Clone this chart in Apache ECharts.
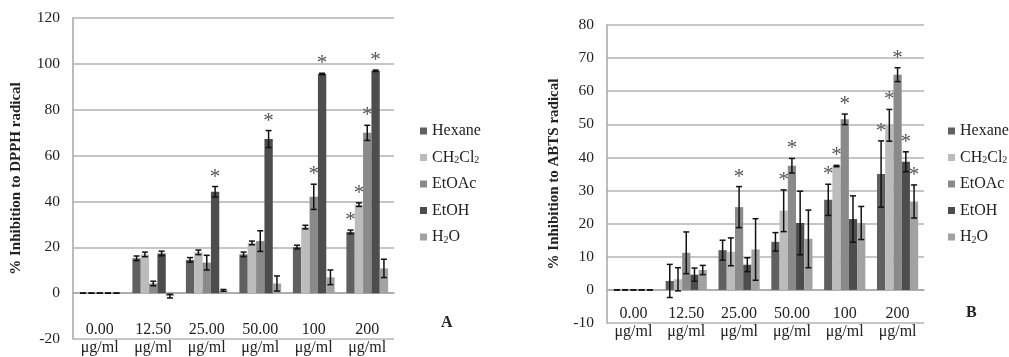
<!DOCTYPE html>
<html>
<head>
<meta charset="utf-8">
<script src="https://cdn.jsdelivr.net/npm/echarts@6/dist/echarts.min.js"></script>
<style>
  html, body { margin: 0; padding: 0; background: #fff; }
  #main { width: 1009px; height: 357px; }
</style>
</head>
<body>
<div id="main"></div>
<script>
// concentrations (x categories)
var categories = ['0.00\nμg/ml', '12.50\nμg/ml', '25.00\nμg/ml', '50.00\nμg/ml', '100\nμg/ml', '200\nμg/ml'];
var solvents = ['Hexane', 'CH2Cl2', 'EtOAc', 'EtOH', 'H2O'];

// A : % inhibition to DPPH radical
var dpph_hexane = [0, 15.2, 14.5, 16.9, 20.1, 26.7];
var dpph_ch2cl2 = [0, 16.9, 17.8, 21.9, 28.8, 38.6];
var dpph_etoac  = [0, 4.2, 13.3, 22.7, 42.0, 69.9];
var dpph_etoh   = [0, 17.3, 44.2, 67.2, 95.6, 97.0];
var dpph_h2o    = [0, -1.3, 1.2, 4.2, 6.9, 10.8];
var dpph_hexane_err = [0, 1.0, 1.0, 1.0, 0.8, 0.8];
var dpph_ch2cl2_err = [0, 1.0, 1.0, 0.8, 0.8, 0.8];
var dpph_etoac_err  = [0, 1.0, 3.2, 4.5, 5.5, 3.3];
var dpph_etoh_err   = [0, 1.0, 2.3, 3.7, 0.3, 0.3];
var dpph_h2o_err    = [0, 0.8, 0.4, 3.3, 3.2, 4.0];
// [category, solvent] pairs marked with *
var dpph_stars = [[2, 3], [3, 3], [4, 2], [4, 3], [5, 0], [5, 1], [5, 2], [5, 3]];

// B : % inhibition to ABTS radical
var abts_hexane = [0, 2.7, 12.0, 14.5, 27.2, 35.0];
var abts_ch2cl2 = [0, 3.2, 11.5, 23.9, 37.4, 49.7];
var abts_etoac  = [0, 11.2, 25.0, 37.5, 51.5, 65.0];
var abts_etoh   = [0, 4.6, 7.6, 20.2, 21.4, 38.7];
var abts_h2o    = [0, 6.0, 12.2, 15.4, 20.2, 26.7];
var abts_hexane_err = [0, 5.0, 3.0, 2.8, 4.7, 10.0];
var abts_ch2cl2_err = [0, 3.5, 4.2, 6.3, 0.2, 4.8];
var abts_etoac_err  = [0, 6.3, 6.2, 2.2, 1.6, 2.1];
var abts_etoh_err   = [0, 2.0, 2.1, 9.6, 7.0, 3.0];
var abts_h2o_err    = [0, 1.4, 9.3, 8.7, 5.0, 5.0];
var abts_stars = [[2, 2], [3, 1], [3, 2], [4, 0], [4, 1], [4, 2], [5, 0], [5, 1], [5, 2], [5, 3], [5, 4]];

var barColors = ['#606060', '#bcbcbc', '#8a8a8a', '#4d4d4d', '#a2a2a2'];
var FONT = 'Liberation Serif';
var GAP = 0.22;   // barCategoryGap

function hasStar(stars, c, s) {
    for (var i = 0; i < stars.length; i++) {
        if (stars[i][0] == c && stars[i][1] == s) return 1;
    }
    return 0;
}

// rows for the custom series: [category, solvent, value, err, star]
function errRows(vals, errs, stars) {
    var rows = [];
    for (var s = 0; s < vals.length; s++) {
        for (var c = 0; c < categories.length; c++) {
            rows.push([c, s, vals[s][c], errs[s][c], hasStar(stars, c, s)]);
        }
    }
    return rows;
}

function renderErr(params, api) {
    var c = api.value(0), s = api.value(1), v = api.value(2), e = api.value(3), star = api.value(4);
    var band = api.size([1, 0])[0];
    var bw = band * (1 - GAP) / 5;
    var x = api.coord([c, 0])[0] - 2.5 * bw + (s + 0.5) * bw;
    var yHi = api.coord([c, v + e])[1];
    var yLo = api.coord([c, v - e])[1];
    var st = { stroke: '#111', lineWidth: 1.5 };
    var kids = [
        { type: 'line', shape: { x1: x, y1: yHi, x2: x, y2: yLo }, style: st },
        { type: 'line', shape: { x1: x - 3, y1: yHi, x2: x + 3, y2: yHi }, style: st },
        { type: 'line', shape: { x1: x - 3, y1: yLo, x2: x + 3, y2: yLo }, style: st }
    ];
    if (star) {
        kids.push({
            type: 'text',
            style: { text: '*', x: x, y: yHi + 1, align: 'center', verticalAlign: 'bottom',
                     font: '21px "' + FONT + '"', fill: '#555' }
        });
    }
    return { type: 'group', children: kids };
}

var chart = echarts.init(document.getElementById('main'), null, { renderer: 'canvas' });

var grids = [
    { left: 73, top: 18, width: 321, height: 326 },
    { left: 607, top: 25, width: 317, height: 298 }
];

function xAxisOf(i) {
    return {
        type: 'category', gridIndex: i, data: categories,
        axisLine: { lineStyle: { color: '#a6a6a6', width: 1.5 } },
        axisTick: { show: false },
        axisLabel: { interval: 0, margin: 0, verticalAlign: 'middle', lineHeight: 18,
                     fontFamily: FONT, fontSize: 16, color: '#222' }
    };
}

function yAxisOf(i, min, max, step, name, gap) {
    return {
        type: 'value', gridIndex: i, min: min, max: max, interval: step,
        name: name, nameLocation: 'middle', nameGap: gap,
        nameTextStyle: { fontFamily: FONT, fontSize: 15, fontWeight: 'bold', color: '#222' },
        axisLine: { show: true, lineStyle: { color: '#a6a6a6', width: 1.5 } },
        axisTick: { show: false },
        axisLabel: { margin: 13, fontFamily: FONT, fontSize: 15.5, color: '#222' },
        splitLine: { lineStyle: { color: '#b3b3b3', width: 1.5 } }
    };
}

var dpphVals = [dpph_hexane, dpph_ch2cl2, dpph_etoac, dpph_etoh, dpph_h2o];
var dpphErrs = [dpph_hexane_err, dpph_ch2cl2_err, dpph_etoac_err, dpph_etoh_err, dpph_h2o_err];
var abtsVals = [abts_hexane, abts_ch2cl2, abts_etoac, abts_etoh, abts_h2o];
var abtsErrs = [abts_hexane_err, abts_ch2cl2_err, abts_etoac_err, abts_etoh_err, abts_h2o_err];

var series = [];
[dpphVals, abtsVals].forEach(function (vals, g) {
    for (var s = 0; s < solvents.length; s++) {
        series.push({
            type: 'bar', name: solvents[s], xAxisIndex: g, yAxisIndex: g,
            data: vals[s], barGap: '0%', barCategoryGap: (GAP * 100) + '%',
            itemStyle: { color: barColors[s] }
        });
    }
});
series.push({ type: 'custom', xAxisIndex: 0, yAxisIndex: 0, renderItem: renderErr,
              encode: { x: 0, y: 2 }, data: errRows(dpphVals, dpphErrs, dpph_stars), z: 5 });
series.push({ type: 'custom', xAxisIndex: 1, yAxisIndex: 1, renderItem: renderErr,
              encode: { x: 0, y: 2 }, data: errRows(abtsVals, abtsErrs, abts_stars), z: 5 });

function legendOf(left, top) {
    return {
        data: solvents, orient: 'vertical', left: left, top: top, padding: 0,
        itemWidth: 7, itemHeight: 7, itemGap: 10.5, icon: 'rect',
        formatter: function (name) { return name.replace(/2/g, '{sub|2}'); },
        textStyle: { fontFamily: FONT, fontSize: 16, color: '#222',
                     rich: { sub: { fontFamily: FONT, fontSize: 10, verticalAlign: 'bottom', padding: [6, 0, 0, 0] } } }
    };
}

var option = {
    backgroundColor: '#fff',
    animation: false,
    grid: grids,
    xAxis: [xAxisOf(0), xAxisOf(1)],
    yAxis: [yAxisOf(0, -20, 120, 20, '% Inhibition to DPPH radical', 49),
            yAxisOf(1, -10, 80, 10, '% Inhibition to ABTS radical', 45)],
    legend: [legendOf(420, 123), legendOf(948, 123)],
    series: series,
    graphic: [
        { type: 'text', left: 441, top: 315, style: { text: 'A', font: 'bold 16px "' + FONT + '"', fill: '#222' } },
        { type: 'text', left: 966, top: 305, style: { text: 'B', font: 'bold 16px "' + FONT + '"', fill: '#222' } }
    ]
};
chart.setOption(option);
</script>
</body>
</html>
